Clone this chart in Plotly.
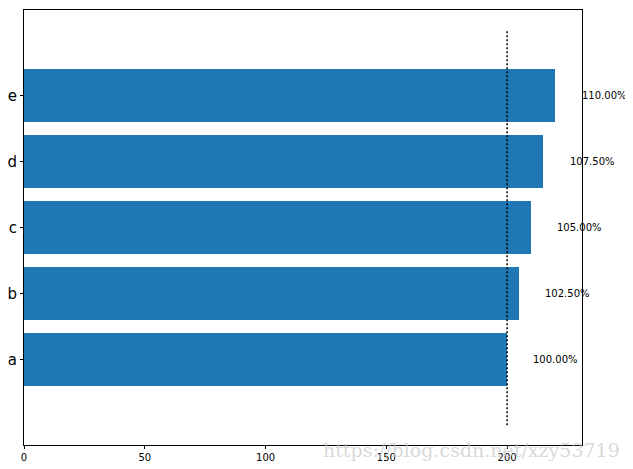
import plotly.graph_objects as go

categories = ["a", "b", "c", "d", "e"]
values = [200, 205, 210, 215, 220]
pct_labels = ["100.00%", "102.50%", "105.00%", "107.50%", "110.00%"]
ref_value = 200
x_ticks = [0, 50, 100, 150, 200]

fig = go.Figure()
fig.add_trace(go.Bar(
    x=values, y=list(range(len(categories))), orientation="h",
    marker=dict(color="#1f77b4", line=dict(width=0)), width=0.8,
    hoverinfo="x+y", showlegend=False,
))

for i, (v, t) in enumerate(zip(values, pct_labels)):
    fig.add_annotation(x=v + 10, y=i, text=t, showarrow=False, xanchor="left",
                       yanchor="middle", font=dict(size=10, color="black",
                       family="DejaVu Sans"))

fig.add_shape(type="line", x0=ref_value, x1=ref_value, y0=-1, y1=5,
              line=dict(color="black", width=1.5, dash="2px,2px"))

fig.add_annotation(xref="paper", yref="paper", x=1.072, y=-0.012,
                   xanchor="right", yanchor="middle", showarrow=False,
                   text="https://blog.csdn.net/xzy53719",
                   font=dict(size=19, color="rgba(200,200,200,0.7)",
                             family="DejaVu Serif"))

# page body has an 8px margin, so the figure is shrunk by 8px and offset
fig.update_layout(
    width=625, height=461,
    margin=dict(l=16, r=51, t=2, b=24),
    plot_bgcolor="white", paper_bgcolor="white",
    bargap=0,
    font=dict(family="DejaVu Sans", color="black"),
)
fig.update_xaxes(range=[0, 231], tickvals=x_ticks, showgrid=False, zeroline=False,
                 showline=True, linecolor="black", linewidth=1, mirror=True,
                 ticks="outside", ticklen=3, tickcolor="black",
                 tickfont=dict(size=10), automargin=False)
fig.update_yaxes(range=[-1.3, 5.3], tickvals=list(range(len(categories))),
                 ticktext=categories, showgrid=False, zeroline=False,
                 showline=True, linecolor="black", linewidth=1, mirror=True,
                 ticks="outside", ticklen=3, tickcolor="black",
                 tickfont=dict(size=15), automargin=False)

fig.write_html("out.html")
